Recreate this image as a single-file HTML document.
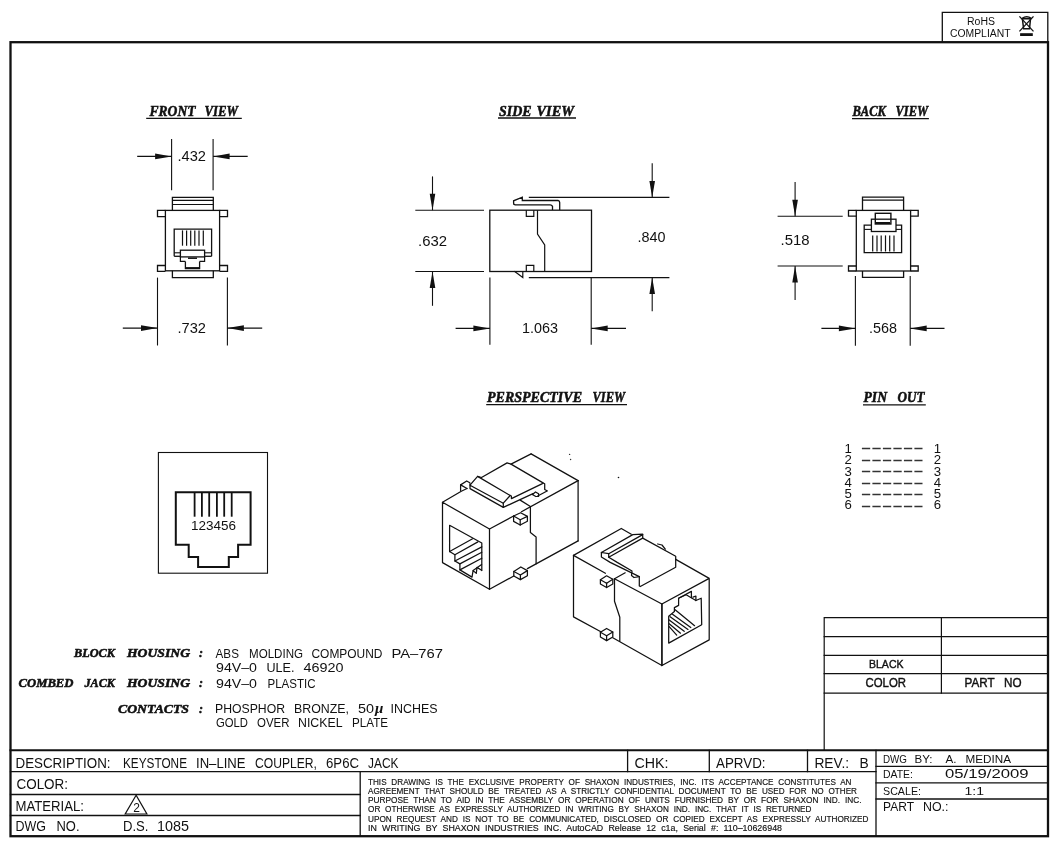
<!DOCTYPE html>
<html><head><meta charset="utf-8">
<style>
html,body{margin:0;padding:0;background:#fff;width:1060px;height:848px;overflow:hidden}
svg{display:block;will-change:transform}
text{white-space:pre}
.s{font-family:"Liberation Sans",sans-serif;fill:#111}
.h{font-family:"Liberation Serif",serif;font-weight:bold;font-style:italic;fill:#111;stroke:#111;stroke-width:0.55}
</style></head><body>
<svg width="1060" height="848" viewBox="0 0 1060 848">
<g fill="none" stroke="#111" stroke-linecap="square">
<!-- outer border -->
<rect x="10.5" y="42.2" width="1037.5" height="794" stroke-width="2.3"/>
<!-- RoHS box -->
<polyline points="942.3,42 942.3,12.3 1047.8,12.3 1047.8,42" stroke-width="1.3"/>
<!-- title block -->
<line x1="10.5" y1="750.3" x2="1047.8" y2="750.3" stroke-width="2"/>
<line x1="10.5" y1="771.6" x2="876" y2="771.6" stroke-width="1.3"/>
<line x1="10.5" y1="794.5" x2="360.2" y2="794.5" stroke-width="1.3"/>
<line x1="10.5" y1="815.5" x2="360.2" y2="815.5" stroke-width="1.3"/>
<line x1="360.2" y1="771.6" x2="360.2" y2="836" stroke-width="1.3"/>
<line x1="627.6" y1="750.3" x2="627.6" y2="771.6" stroke-width="1.3"/>
<line x1="709.3" y1="750.3" x2="709.3" y2="771.6" stroke-width="1.3"/>
<line x1="807.5" y1="750.3" x2="807.5" y2="771.6" stroke-width="1.3"/>
<line x1="876" y1="750.3" x2="876" y2="836" stroke-width="1.3"/>
<line x1="876" y1="766.4" x2="1047.8" y2="766.4" stroke-width="1.3"/>
<line x1="876" y1="782.8" x2="1047.8" y2="782.8" stroke-width="1.3"/>
<line x1="876" y1="799" x2="1047.8" y2="799" stroke-width="1.3"/>
<!-- parts table -->
<polyline points="824.2,750 824.2,617.7 1047.8,617.7" stroke-width="1.2"/>
<line x1="824.2" y1="636.6" x2="1047.8" y2="636.6" stroke-width="1.2"/>
<line x1="824.2" y1="655.4" x2="1047.8" y2="655.4" stroke-width="1.2"/>
<line x1="824.2" y1="673.6" x2="1047.8" y2="673.6" stroke-width="1.2"/>
<line x1="824.2" y1="693.2" x2="1047.8" y2="693.2" stroke-width="1.2"/>
<line x1="941.4" y1="617.7" x2="941.4" y2="693.2" stroke-width="1.2"/>
</g>
<!--TTEXT-->
<text class="s" x="15.5" y="767.6" font-size="13.8" textLength="95.0" lengthAdjust="spacingAndGlyphs">DESCRIPTION:</text>
<text class="s" x="123.0" y="767.6" font-size="13.8" textLength="64.0" lengthAdjust="spacingAndGlyphs">KEYSTONE</text>
<text class="s" x="196.0" y="767.6" font-size="13.8" textLength="49.5" lengthAdjust="spacingAndGlyphs">IN–LINE</text>
<text class="s" x="255.0" y="767.6" font-size="13.8" textLength="62.0" lengthAdjust="spacingAndGlyphs">COUPLER,</text>
<text class="s" x="326.0" y="767.6" font-size="13.8" textLength="33.0" lengthAdjust="spacingAndGlyphs">6P6C</text>
<text class="s" x="368.0" y="767.6" font-size="13.8" textLength="30.5" lengthAdjust="spacingAndGlyphs">JACK</text>
<text class="s" x="16.5" y="788.8" font-size="13.8" textLength="51.5" lengthAdjust="spacingAndGlyphs">COLOR:</text>
<text class="s" x="15.5" y="810.7" font-size="13.8" textLength="68.5" lengthAdjust="spacingAndGlyphs">MATERIAL:</text>
<text class="s" x="15.5" y="831.4" font-size="13.8" textLength="30.5" lengthAdjust="spacingAndGlyphs">DWG</text>
<text class="s" x="56.5" y="831.4" font-size="13.8" textLength="23.0" lengthAdjust="spacingAndGlyphs">NO.</text>
<text class="s" x="123.0" y="831.4" font-size="13.8" textLength="25.5" lengthAdjust="spacingAndGlyphs">D.S.</text>
<text class="s" x="157.0" y="831.4" font-size="13.8" textLength="32.0" lengthAdjust="spacingAndGlyphs">1085</text>
<text class="s" x="634.5" y="767.6" font-size="13.8" textLength="34.0" lengthAdjust="spacingAndGlyphs">CHK:</text>
<text class="s" x="716.0" y="767.6" font-size="13.8" textLength="49.5" lengthAdjust="spacingAndGlyphs">APRVD:</text>
<text class="s" x="814.4" y="767.6" font-size="13.8" textLength="34.7" lengthAdjust="spacingAndGlyphs">REV.:</text>
<text class="s" x="859.4" y="767.6" font-size="13.8" textLength="9.2" lengthAdjust="spacingAndGlyphs">B</text>
<text class="s" x="883.0" y="763" font-size="11.2" textLength="24.0" lengthAdjust="spacingAndGlyphs">DWG</text>
<text class="s" x="914.5" y="763" font-size="11.2" textLength="18.0" lengthAdjust="spacingAndGlyphs">BY:</text>
<text class="s" x="945.5" y="763" font-size="11.5" textLength="11.0" lengthAdjust="spacingAndGlyphs">A.</text>
<text class="s" x="965.5" y="763" font-size="11.5" textLength="45.5" lengthAdjust="spacingAndGlyphs">MEDINA</text>
<text class="s" x="883.0" y="778.1" font-size="11.2" textLength="30.0" lengthAdjust="spacingAndGlyphs">DATE:</text>
<text class="s" x="945.0" y="778.1" font-size="12.6" textLength="83.5" lengthAdjust="spacingAndGlyphs">05/19/2009</text>
<text class="s" x="883.0" y="795.3" font-size="11.2" textLength="38.0" lengthAdjust="spacingAndGlyphs">SCALE:</text>
<text class="s" x="964.5" y="795.3" font-size="11.5" textLength="19.5" lengthAdjust="spacingAndGlyphs">1:1</text>
<text class="s" x="883.0" y="810.8" font-size="12.8" textLength="31.0" lengthAdjust="spacingAndGlyphs">PART</text>
<text class="s" x="923.0" y="810.8" font-size="12.8" textLength="25.5" lengthAdjust="spacingAndGlyphs">NO.:</text>
<text class="s" x="869.0" y="668" font-size="11.5" textLength="34.5" lengthAdjust="spacingAndGlyphs" stroke="#111" stroke-width="0.4">BLACK</text>
<text class="s" x="865.5" y="687.3" font-size="12" textLength="40.5" lengthAdjust="spacingAndGlyphs" stroke="#111" stroke-width="0.4">COLOR</text>
<text class="s" x="964.5" y="687.3" font-size="12" textLength="30.0" lengthAdjust="spacingAndGlyphs" stroke="#111" stroke-width="0.4">PART</text>
<text class="s" x="1004.0" y="687.3" font-size="12" textLength="17.5" lengthAdjust="spacingAndGlyphs" stroke="#111" stroke-width="0.4">NO</text>
<text class="s" x="967.0" y="24.5" font-size="10" textLength="28.0" lengthAdjust="spacingAndGlyphs">RoHS</text>
<text class="s" x="950.0" y="36.5" font-size="10" textLength="60.5" lengthAdjust="spacingAndGlyphs">COMPLIANT</text>
<text class="s" x="368.0" y="784.6" font-size="8.4" textLength="483.5" lengthAdjust="spacingAndGlyphs" word-spacing="2.6" stroke="#111" stroke-width="0.15">THIS DRAWING IS THE EXCLUSIVE PROPERTY OF SHAXON INDUSTRIES, INC. ITS ACCEPTANCE CONSTITUTES AN</text>
<text class="s" x="368.0" y="794.1" font-size="8.4" textLength="489.0" lengthAdjust="spacingAndGlyphs" word-spacing="2.6" stroke="#111" stroke-width="0.15">AGREEMENT THAT SHOULD BE TREATED AS A STRICTLY CONFIDENTIAL DOCUMENT TO BE USED FOR NO OTHER</text>
<text class="s" x="368.0" y="803.4" font-size="8.4" textLength="493.5" lengthAdjust="spacingAndGlyphs" word-spacing="2.6" stroke="#111" stroke-width="0.15">PURPOSE THAN TO AID IN THE ASSEMBLY OR OPERATION OF UNITS FURNISHED BY OR FOR SHAXON IND. INC.</text>
<text class="s" x="368.0" y="812.4" font-size="8.4" textLength="443.5" lengthAdjust="spacingAndGlyphs" word-spacing="2.6" stroke="#111" stroke-width="0.15">OR OTHERWISE AS EXPRESSLY AUTHORIZED IN WRITING BY SHAXON IND. INC. THAT IT IS RETURNED</text>
<text class="s" x="368.0" y="821.6" font-size="8.4" textLength="500.5" lengthAdjust="spacingAndGlyphs" word-spacing="2.6" stroke="#111" stroke-width="0.15">UPON REQUEST AND IS NOT TO BE COMMUNICATED, DISCLOSED OR COPIED EXCEPT AS EXPRESSLY AUTHORIZED</text>
<text class="s" x="368.0" y="831.4" font-size="8.4" textLength="414.0" lengthAdjust="spacingAndGlyphs" word-spacing="2.6" stroke="#111" stroke-width="0.15">IN WRITING BY SHAXON INDUSTRIES INC. AutoCAD Release 12 c1a, Serial #: 110–10626948</text>
<text class="h" x="149.5" y="115.7" font-size="15.5" textLength="46.0" lengthAdjust="spacingAndGlyphs">FRONT</text>
<text class="h" x="204.5" y="115.7" font-size="15.5" textLength="33.5" lengthAdjust="spacingAndGlyphs">VIEW</text>
<text class="h" x="499.0" y="115.6" font-size="15.5" textLength="32.5" lengthAdjust="spacingAndGlyphs">SIDE</text>
<text class="h" x="536.5" y="115.6" font-size="15.5" textLength="37.5" lengthAdjust="spacingAndGlyphs">VIEW</text>
<text class="h" x="852.5" y="115.5" font-size="15.5" textLength="33.5" lengthAdjust="spacingAndGlyphs">BACK</text>
<text class="h" x="895.5" y="115.5" font-size="15.5" textLength="32.5" lengthAdjust="spacingAndGlyphs">VIEW</text>
<text class="h" x="487.0" y="401.7" font-size="15.5" textLength="95.0" lengthAdjust="spacingAndGlyphs">PERSPECTIVE</text>
<text class="h" x="592.5" y="401.7" font-size="15.5" textLength="32.5" lengthAdjust="spacingAndGlyphs">VIEW</text>
<text class="h" x="863.5" y="402.3" font-size="15.5" textLength="23.5" lengthAdjust="spacingAndGlyphs">PIN</text>
<text class="h" x="897.5" y="402.3" font-size="15.5" textLength="27.0" lengthAdjust="spacingAndGlyphs">OUT</text>
<text class="h" x="74.0" y="657" font-size="13.5" textLength="41.0" lengthAdjust="spacingAndGlyphs">BLOCK</text>
<text class="h" x="127.0" y="657" font-size="13.5" textLength="63.0" lengthAdjust="spacingAndGlyphs">HOUSING</text>
<text class="h" x="199.0" y="657" font-size="13.5" textLength="4.0" lengthAdjust="spacingAndGlyphs">:</text>
<text class="h" x="18.5" y="687.1" font-size="13.5" textLength="55.0" lengthAdjust="spacingAndGlyphs">COMBED</text>
<text class="h" x="84.5" y="687.1" font-size="13.5" textLength="30.5" lengthAdjust="spacingAndGlyphs">JACK</text>
<text class="h" x="127.0" y="687.1" font-size="13.5" textLength="63.0" lengthAdjust="spacingAndGlyphs">HOUSING</text>
<text class="h" x="199.0" y="687.1" font-size="13.5" textLength="4.0" lengthAdjust="spacingAndGlyphs">:</text>
<text class="h" x="118.0" y="712.7" font-size="13.5" textLength="71.0" lengthAdjust="spacingAndGlyphs">CONTACTS</text>
<text class="h" x="199.0" y="712.7" font-size="13.5" textLength="4.0" lengthAdjust="spacingAndGlyphs">:</text>
<text class="s" x="177.5" y="161.2" font-size="14" textLength="28.5" lengthAdjust="spacingAndGlyphs">.432</text>
<text class="s" x="177.5" y="332.6" font-size="14" textLength="28.5" lengthAdjust="spacingAndGlyphs">.732</text>
<text class="s" x="418.0" y="245.6" font-size="14" textLength="29.0" lengthAdjust="spacingAndGlyphs">.632</text>
<text class="s" x="637.5" y="241.7" font-size="14" textLength="28.0" lengthAdjust="spacingAndGlyphs">.840</text>
<text class="s" x="522.0" y="332.5" font-size="14" textLength="36.0" lengthAdjust="spacingAndGlyphs">1.063</text>
<text class="s" x="780.5" y="245.2" font-size="14" textLength="29.0" lengthAdjust="spacingAndGlyphs">.518</text>
<text class="s" x="869.0" y="333" font-size="14" textLength="28.0" lengthAdjust="spacingAndGlyphs">.568</text>
<text class="s" x="191.0" y="530.2" font-size="12.5" textLength="45.0" lengthAdjust="spacingAndGlyphs">123456</text>
<text class="s" x="215.6" y="657.6" font-size="12.8" textLength="23.3" lengthAdjust="spacingAndGlyphs">ABS</text>
<text class="s" x="249.0" y="657.6" font-size="12.8" textLength="54.0" lengthAdjust="spacingAndGlyphs">MOLDING</text>
<text class="s" x="311.5" y="657.6" font-size="12.8" textLength="71.0" lengthAdjust="spacingAndGlyphs">COMPOUND</text>
<text class="s" x="391.5" y="657.6" font-size="12.8" textLength="51.5" lengthAdjust="spacingAndGlyphs">PA–767</text>
<text class="s" x="216.0" y="671.8" font-size="12.8" textLength="41.0" lengthAdjust="spacingAndGlyphs">94V–0</text>
<text class="s" x="266.5" y="671.8" font-size="12.8" textLength="28.0" lengthAdjust="spacingAndGlyphs">ULE.</text>
<text class="s" x="303.5" y="671.8" font-size="12.8" textLength="40.0" lengthAdjust="spacingAndGlyphs">46920</text>
<text class="s" x="216.0" y="687.7" font-size="12.8" textLength="41.0" lengthAdjust="spacingAndGlyphs">94V–0</text>
<text class="s" x="267.5" y="687.7" font-size="12.8" textLength="48.0" lengthAdjust="spacingAndGlyphs">PLASTIC</text>
<text class="s" x="215.0" y="713" font-size="12.8" textLength="70.0" lengthAdjust="spacingAndGlyphs">PHOSPHOR</text>
<text class="s" x="294.0" y="713" font-size="12.8" textLength="55.0" lengthAdjust="spacingAndGlyphs">BRONZE,</text>
<text class="s" x="358.0" y="713" font-size="12.8" textLength="16.0" lengthAdjust="spacingAndGlyphs">50</text>
<text class="s" x="390.5" y="713" font-size="12.8" textLength="47.0" lengthAdjust="spacingAndGlyphs">INCHES</text>
<text class="s" x="375" y="713" font-size="15" font-style="italic" font-weight="bold" style="font-family:'Liberation Serif',serif">μ</text>
<text class="s" x="216.0" y="727" font-size="12.8" textLength="32.0" lengthAdjust="spacingAndGlyphs">GOLD</text>
<text class="s" x="257.0" y="727" font-size="12.8" textLength="32.5" lengthAdjust="spacingAndGlyphs">OVER</text>
<text class="s" x="298.0" y="727" font-size="12.8" textLength="44.5" lengthAdjust="spacingAndGlyphs">NICKEL</text>
<text class="s" x="352.0" y="727" font-size="12.8" textLength="36.0" lengthAdjust="spacingAndGlyphs">PLATE</text>
<text class="s" x="844.5" y="452.7" font-size="13.2">1</text>
<text class="s" x="933.7" y="452.7" font-size="13.2">1</text>
<text class="s" x="844.5" y="464.2" font-size="13.2">2</text>
<text class="s" x="933.7" y="464.2" font-size="13.2">2</text>
<text class="s" x="844.5" y="475.5" font-size="13.2">3</text>
<text class="s" x="933.7" y="475.5" font-size="13.2">3</text>
<text class="s" x="844.5" y="486.5" font-size="13.2">4</text>
<text class="s" x="933.7" y="486.5" font-size="13.2">4</text>
<text class="s" x="844.5" y="498.1" font-size="13.2">5</text>
<text class="s" x="933.7" y="498.1" font-size="13.2">5</text>
<text class="s" x="844.5" y="509.3" font-size="13.2">6</text>
<text class="s" x="933.7" y="509.3" font-size="13.2">6</text>
<!--/TTEXT-->
<!--VIEWS--><g fill="none" stroke="#111" stroke-linecap="butt" stroke-linejoin="miter">
<line x1="171.6" y1="139" x2="171.6" y2="190.3" stroke-width="1.1"/>
<line x1="213.1" y1="139" x2="213.1" y2="190.3" stroke-width="1.1"/>
<line x1="137.2" y1="156.4" x2="171.6" y2="156.4" stroke-width="1.1"/>
<polygon points="171.6,156.4 155.1,153.6 155.1,159.20000000000002" fill="#111" stroke="none"/>
<line x1="247.7" y1="156.4" x2="213.1" y2="156.4" stroke-width="1.1"/>
<polygon points="213.1,156.4 229.6,153.6 229.6,159.20000000000002" fill="#111" stroke="none"/>
<rect x="165.4" y="210.4" width="54.2" height="60.4" stroke-width="1.3"/>
<polyline points="172.4,210.4 172.4,197.4 213.3,197.4 213.3,210.4" stroke-width="1.3"/>
<line x1="172.4" y1="200.3" x2="213.3" y2="200.3" stroke-width="1.2"/>
<line x1="172.4" y1="204.5" x2="213.3" y2="204.5" stroke-width="1.2"/>
<polyline points="165.4,210.4 157.5,210.4 157.5,216.6 165.4,216.6" stroke-width="1.3"/>
<polyline points="219.6,210.4 227.5,210.4 227.5,216.6 219.6,216.6" stroke-width="1.3"/>
<polyline points="165.4,265.5 157.5,265.5 157.5,271.4 165.4,271.4" stroke-width="1.3"/>
<polyline points="219.6,265.5 227.5,265.5 227.5,271.4 219.6,271.4" stroke-width="1.3"/>
<polyline points="172.4,270.8 172.4,277.6 213.3,277.6 213.3,270.8" stroke-width="1.3"/>
<polyline points="174.2,256.3 174.2,229.2 211.6,229.2 211.6,256.3" stroke-width="1.3"/>
<line x1="174.2" y1="256.3" x2="180.4" y2="256.3" stroke-width="1.3"/>
<line x1="204.6" y1="256.3" x2="211.6" y2="256.3" stroke-width="1.3"/>
<line x1="174.2" y1="252.8" x2="180.4" y2="252.8" stroke-width="1.1"/>
<line x1="204.6" y1="252.8" x2="211.6" y2="252.8" stroke-width="1.1"/>
<line x1="182.5" y1="230.4" x2="182.5" y2="245.7" stroke-width="1.2"/>
<line x1="186.6" y1="230.4" x2="186.6" y2="245.7" stroke-width="1.2"/>
<line x1="190.7" y1="230.4" x2="190.7" y2="245.7" stroke-width="1.2"/>
<line x1="194.8" y1="230.4" x2="194.8" y2="245.7" stroke-width="1.2"/>
<line x1="199.0" y1="230.4" x2="199.0" y2="245.7" stroke-width="1.2"/>
<line x1="203.3" y1="230.4" x2="203.3" y2="245.7" stroke-width="1.2"/>
<rect x="180.4" y="250.2" width="24.2" height="6.7" stroke-width="1.3"/>
<polyline points="180.4,256.9 180.4,261.4 185.4,261.4" stroke-width="1.2"/>
<polyline points="204.6,256.9 204.6,261.4 199.6,261.4" stroke-width="1.2"/>
<polyline points="185.4,261.4 185.4,268.5 199.6,268.5 199.6,261.4" stroke-width="1.3"/>
<line x1="188" y1="258.2" x2="197" y2="258.2" stroke-width="1.5"/>
<line x1="186" y1="268" x2="199" y2="268" stroke-width="1.8"/>
<line x1="157.5" y1="277.6" x2="157.5" y2="345.5" stroke-width="1.1"/>
<line x1="227.4" y1="277.6" x2="227.4" y2="345.5" stroke-width="1.1"/>
<line x1="122.8" y1="328.1" x2="157.5" y2="328.1" stroke-width="1.1"/>
<polygon points="157.5,328.1 141.0,325.3 141.0,330.90000000000003" fill="#111" stroke="none"/>
<line x1="262.2" y1="328.1" x2="227.4" y2="328.1" stroke-width="1.1"/>
<polygon points="227.4,328.1 243.9,325.3 243.9,330.90000000000003" fill="#111" stroke="none"/>
<rect x="489.8" y="210.2" width="101.7" height="61.3" stroke-width="1.3"/>
<line x1="415.3" y1="210.2" x2="484" y2="210.2" stroke-width="1.1"/>
<line x1="415.3" y1="271.5" x2="484" y2="271.5" stroke-width="1.1"/>
<line x1="432.5" y1="176.4" x2="432.5" y2="210.2" stroke-width="1.1"/>
<polygon points="432.5,210.2 429.7,193.7 435.3,193.7" fill="#111" stroke="none"/>
<line x1="432.5" y1="305.8" x2="432.5" y2="271.5" stroke-width="1.1"/>
<polygon points="432.5,271.5 429.7,288.0 435.3,288.0" fill="#111" stroke="none"/>
<line x1="528.8" y1="197.4" x2="669.4" y2="197.4" stroke-width="1.1"/>
<line x1="528.8" y1="277.6" x2="669.4" y2="277.6" stroke-width="1.1"/>
<line x1="652.2" y1="163.2" x2="652.2" y2="197.4" stroke-width="1.1"/>
<polygon points="652.2,197.4 649.4000000000001,180.9 655.0,180.9" fill="#111" stroke="none"/>
<line x1="652.2" y1="311.2" x2="652.2" y2="277.6" stroke-width="1.1"/>
<polygon points="652.2,277.6 649.4000000000001,294.1 655.0,294.1" fill="#111" stroke="none"/>
<polyline points="552.5,210 552.5,206.3 551.5,205.2 550.2,204.8 515.2,204.8 513.8,204.2 513.6,203 513.6,200.8 522.3,197.2 522.3,200.5 558,200.5 559.3,201.3 559.7,202.6 559.7,210" stroke-width="1.3"/>
<polyline points="537.5,210.2 537.5,234 544.7,245 544.7,271.5" stroke-width="1.2"/>
<polyline points="526.3,210.2 526.3,216.3 533.8,216.3 533.8,210.2" stroke-width="1.2"/>
<polyline points="526.3,271.5 526.3,265.4 533.8,265.4 533.8,271.5" stroke-width="1.2"/>
<polyline points="514.4,271.3 522.8,277.6 522.8,271.5" stroke-width="1.2"/>
<line x1="489.9" y1="277.4" x2="489.9" y2="344.8" stroke-width="1.1"/>
<line x1="591.2" y1="277.4" x2="591.2" y2="344.8" stroke-width="1.1"/>
<line x1="455.6" y1="328.4" x2="489.9" y2="328.4" stroke-width="1.1"/>
<polygon points="489.9,328.4 473.4,325.59999999999997 473.4,331.2" fill="#111" stroke="none"/>
<line x1="626" y1="328.4" x2="591.2" y2="328.4" stroke-width="1.1"/>
<polygon points="591.2,328.4 607.7,325.59999999999997 607.7,331.2" fill="#111" stroke="none"/>
<rect x="856.3" y="210.4" width="54.3" height="60.6" stroke-width="1.3"/>
<polyline points="862.5,210.4 862.5,197.2 903.6,197.2 903.6,210.4" stroke-width="1.3"/>
<line x1="862.5" y1="200.2" x2="903.6" y2="200.2" stroke-width="1.2"/>
<polyline points="856.3,210.4 848.5,210.4 848.5,216.2 856.3,216.2" stroke-width="1.3"/>
<polyline points="910.6,210.4 918.2,210.4 918.2,216.2 910.6,216.2" stroke-width="1.3"/>
<polyline points="856.3,266 848.5,266 848.5,271 856.3,271" stroke-width="1.3"/>
<polyline points="910.6,266 918.2,266 918.2,271 910.6,271" stroke-width="1.3"/>
<polyline points="862.5,271 862.5,277.3 903.6,277.3 903.6,271" stroke-width="1.3"/>
<polyline points="871.4,225.2 864.2,225.2 864.2,252.7 901.6,252.7 901.6,225.2 896,225.2" stroke-width="1.3"/>
<line x1="864.2" y1="229.4" x2="871.4" y2="229.4" stroke-width="1.1"/>
<line x1="896" y1="229.4" x2="901.6" y2="229.4" stroke-width="1.1"/>
<rect x="871.4" y="219.2" width="24.6" height="12.3" stroke-width="1.3"/>
<rect x="875.3" y="213.3" width="15.6" height="10.7" stroke-width="1.4"/>
<line x1="876" y1="223" x2="890" y2="223" stroke-width="2"/>
<line x1="872.7" y1="235.4" x2="872.7" y2="251.5" stroke-width="1.2"/>
<line x1="877.0" y1="235.4" x2="877.0" y2="251.5" stroke-width="1.2"/>
<line x1="881.2" y1="235.4" x2="881.2" y2="251.5" stroke-width="1.2"/>
<line x1="885.5" y1="235.4" x2="885.5" y2="251.5" stroke-width="1.2"/>
<line x1="889.7" y1="235.4" x2="889.7" y2="251.5" stroke-width="1.2"/>
<line x1="894.0" y1="235.4" x2="894.0" y2="251.5" stroke-width="1.2"/>
<line x1="777.6" y1="216.2" x2="842.7" y2="216.2" stroke-width="1.1"/>
<line x1="777.6" y1="266" x2="842.7" y2="266" stroke-width="1.1"/>
<line x1="795.1" y1="181.9" x2="795.1" y2="216.2" stroke-width="1.1"/>
<polygon points="795.1,216.2 792.3000000000001,199.7 797.9,199.7" fill="#111" stroke="none"/>
<line x1="795.1" y1="299.9" x2="795.1" y2="266" stroke-width="1.1"/>
<polygon points="795.1,266 792.3000000000001,282.5 797.9,282.5" fill="#111" stroke="none"/>
<line x1="855.4" y1="276.1" x2="855.4" y2="345.8" stroke-width="1.1"/>
<line x1="910.2" y1="276.1" x2="910.2" y2="345.8" stroke-width="1.1"/>
<line x1="821.4" y1="328.4" x2="855.4" y2="328.4" stroke-width="1.1"/>
<polygon points="855.4,328.4 838.9,325.59999999999997 838.9,331.2" fill="#111" stroke="none"/>
<line x1="944.5" y1="328.4" x2="910.2" y2="328.4" stroke-width="1.1"/>
<polygon points="910.2,328.4 926.7,325.59999999999997 926.7,331.2" fill="#111" stroke="none"/>
<rect x="158.4" y="452.5" width="109.1" height="120.7" stroke-width="1.1"/>
<polygon points="175.8,492.3 175.8,544.8 188.7,544.8 188.7,557 198.1,557 198.1,567.1 228.8,567.1 228.8,557 238.1,557 238.1,544.8 250.6,544.8 250.6,492.3" stroke-width="2.0"/>
<line x1="194.6" y1="492.3" x2="194.6" y2="516.7" stroke-width="1.8"/>
<line x1="201.9" y1="492.3" x2="201.9" y2="516.7" stroke-width="1.8"/>
<line x1="209.2" y1="492.3" x2="209.2" y2="516.7" stroke-width="1.8"/>
<line x1="216.9" y1="492.3" x2="216.9" y2="516.7" stroke-width="1.8"/>
<line x1="224.2" y1="492.3" x2="224.2" y2="516.7" stroke-width="1.8"/>
<line x1="231.7" y1="492.3" x2="231.7" y2="516.7" stroke-width="1.8"/>
<line x1="861.9" y1="448.5" x2="922.5" y2="448.5" stroke-width="1.3" stroke="#333" stroke-dasharray="8.3 2.2" stroke-linecap="butt"/>
<line x1="861.9" y1="460.5" x2="922.5" y2="460.5" stroke-width="1.3" stroke="#333" stroke-dasharray="8.3 2.2" stroke-linecap="butt"/>
<line x1="861.9" y1="471.5" x2="922.5" y2="471.5" stroke-width="1.3" stroke="#333" stroke-dasharray="8.3 2.2" stroke-linecap="butt"/>
<line x1="861.9" y1="483.5" x2="922.5" y2="483.5" stroke-width="1.3" stroke="#333" stroke-dasharray="8.3 2.2" stroke-linecap="butt"/>
<line x1="861.9" y1="494.5" x2="922.5" y2="494.5" stroke-width="1.3" stroke="#333" stroke-dasharray="8.3 2.2" stroke-linecap="butt"/>
<line x1="861.9" y1="506.5" x2="922.5" y2="506.5" stroke-width="1.3" stroke="#333" stroke-dasharray="8.3 2.2" stroke-linecap="butt"/>
<line x1="1019.4" y1="16.4" x2="1033.5" y2="31.4" stroke-width="1.3"/>
<line x1="1033.5" y1="16.4" x2="1019.4" y2="31.4" stroke-width="1.3"/>
<path d="M1022.2,18.3 Q1026.7,15.2 1031.2,18.3" stroke-width="1.6"/>
<polygon points="1022.4,18.8 1023.6,28.8 1029.5,28.8 1030.5,18.8" stroke-width="1.5"/>
<rect x="1020.1" y="33.2" width="12.7" height="2.8" fill="#111" stroke="none"/>
<polygon points="136.1,795.3 125.2,814 146.9,814" stroke-width="1.2"/>
<text x="133.2" y="811.9" font-size="12" fill="#111" stroke="none" style="font-family:'Liberation Sans',sans-serif">2</text>
</g><!--/VIEWS-->
<!--PERSP--><g fill="none" stroke="#111" stroke-linecap="round" stroke-linejoin="round">
<polyline points="442.5,502.3 489.5,529.0 489.5,589.3 442.5,562.6 442.5,502.3" stroke-width="1.25"/>
<polyline points="578.1,480.6 578.1,540.9" stroke-width="1.25"/>
<polyline points="531.1,453.9 578.1,480.6" stroke-width="1.25"/>
<polyline points="489.5,529.0 513.6,516.0" stroke-width="1.25"/>
<polyline points="521.5,511.7 578.1,480.6" stroke-width="1.25"/>
<polyline points="513.6,516.0 513.6,521.4 520.2,525.0 527.4,521.2 527.4,516.4 520.6,512.7 513.6,516.0" stroke-width="1.25"/>
<polyline points="513.6,516.0 520.2,519.8 527.4,516.4" stroke-width="1.25"/>
<polyline points="520.2,519.8 520.2,525.0" stroke-width="1.25"/>
<polyline points="489.5,589.3 513.8,576.0" stroke-width="1.25"/>
<polyline points="527.4,568.6 578.1,540.9" stroke-width="1.25"/>
<polyline points="513.8,571.5 513.8,576.0 520.4,579.6 527.4,575.8 527.4,570.6 520.8,567.0 513.8,571.5" stroke-width="1.25"/>
<polyline points="513.8,571.5 520.4,575.0 527.4,570.6" stroke-width="1.25"/>
<polyline points="520.4,575.0 520.4,579.6" stroke-width="1.25"/>
<polyline points="530.4,506.5 530.4,532.6 536.1,536.9 536.1,563.8" stroke-width="1.25"/>
<polyline points="442.5,502.3 461.3,491.2 467.0,488.5" stroke-width="1.25"/>
<polyline points="511.0,464.1 531.1,453.9" stroke-width="1.25"/>
<polyline points="460.6,490.5 460.6,484.9 466.7,481.0 469.8,482.7" stroke-width="1.25"/>
<polyline points="460.6,484.9 467.0,488.5" stroke-width="1.25"/>
<polyline points="470.0,483.5 470.0,488.6 503.3,507.4 503.3,503.2 470.0,485.2" stroke-width="1.25"/>
<polyline points="470.0,485.2 477.6,476.4 510.2,495.5 511.4,496.0 511.4,498.6 542.4,483.6" stroke-width="1.25"/>
<polyline points="503.3,503.2 510.2,495.5" stroke-width="1.25"/>
<polyline points="477.6,476.4 481.5,477.5 507.1,462.9 511.0,464.1 543.9,483.4 544.7,483.8 544.7,489.5 547.0,490.8" stroke-width="1.25"/>
<polyline points="503.3,507.4 533.0,493.6" stroke-width="1.25"/>
<polyline points="520.2,500.1 530.4,506.5" stroke-width="1.25"/>
<polyline points="547.1,491.0 537.7,496.0" stroke-width="1.25"/>
<polyline points="532.4,494.5 535.5,492.0 538.6,493.8 538.6,496.3 535.8,496.5 532.4,494.5" stroke-width="1.25"/>
<polyline points="449.6,551.5 449.6,525.3 481.8,543.0 481.8,570.6" stroke-width="1.25"/>
<polyline points="449.6,551.5 454.9,554.7 454.9,561.0 459.9,563.9 459.9,569.9 472.0,577.1 473.1,570.6 476.3,573.4 477.0,567.4 481.6,570.2" stroke-width="1.25"/>
<polyline points="449.6,551.5 472.6,538.8" stroke-width="1.25"/>
<polyline points="454.9,554.7 477.9,541.9" stroke-width="1.25"/>
<polyline points="454.9,561.0 481.8,546.9" stroke-width="1.25"/>
<polyline points="459.9,563.9 481.8,552.2" stroke-width="1.25"/>
<polyline points="459.9,569.9 481.8,558.2" stroke-width="1.25"/>
<polyline points="473.1,570.6 481.6,564.6" stroke-width="1.25"/>
<polyline points="573.5,555.4 621.3,528.5 631.3,534.2" stroke-width="1.25"/>
<polyline points="675.7,559.4 709.2,578.4 709.2,639.9 661.9,665.5 661.9,604.0 709.2,578.4" stroke-width="1.25"/>
<polyline points="661.9,604.0 661.9,665.5" stroke-width="1.25"/>
<polyline points="573.5,555.4 573.5,616.9 600.4,631.5" stroke-width="1.25"/>
<polyline points="612.8,637.8 661.9,665.5" stroke-width="1.25"/>
<polyline points="573.5,555.4 605.4,573.3" stroke-width="1.25"/>
<polyline points="614.5,578.8 661.9,604.0" stroke-width="1.25"/>
<polyline points="600.4,579.8 600.4,584.0 606.6,587.5 612.8,584.0 612.8,579.2 606.6,575.8 600.4,579.8" stroke-width="1.25"/>
<polyline points="600.4,579.8 606.6,583.2 612.8,579.2" stroke-width="1.25"/>
<polyline points="606.6,583.2 606.6,587.5" stroke-width="1.25"/>
<polyline points="600.4,632.3 600.4,637.0 606.6,640.6 612.8,637.0 612.8,632.0 606.6,628.5 600.4,632.3" stroke-width="1.25"/>
<polyline points="600.4,632.3 606.6,635.8 612.8,632.0" stroke-width="1.25"/>
<polyline points="606.6,635.8 606.6,640.6" stroke-width="1.25"/>
<polyline points="614.5,578.8 614.5,601.3 619.8,617.2 619.8,641.3" stroke-width="1.25"/>
<polyline points="601.4,552.5 632.8,534.6 642.7,534.2 642.7,538.1 608.7,557.2 608.7,553.7 601.4,552.5" stroke-width="1.25"/>
<polyline points="608.7,553.7 642.7,534.6" stroke-width="1.25"/>
<polyline points="642.7,538.1 675.7,556.3 675.7,567.2 640.3,586.5 639.3,586.0 639.3,576.6 610.2,562.4 601.4,557.0 601.4,552.5" stroke-width="1.25"/>
<polyline points="608.7,557.2 617.2,562.4 632.0,571.0 631.5,575.5 634.0,577.5 639.3,576.6" stroke-width="1.25"/>
<polyline points="614.5,578.8 625.2,572.8" stroke-width="1.25"/>
<polyline points="657.7,544.0 662.0,545.0 665.3,549.2" stroke-width="1.25"/>
<polyline points="668.7,616.2 668.7,643.1 701.7,624.7 701.2,598.2 695.9,600.5 686.1,594.8 678.6,598.2 678.6,605.4 674.4,607.6 674.4,611.4 668.7,616.2" stroke-width="1.25"/>
<polyline points="695.9,600.5 695.9,596.0 693.0,597.2" stroke-width="1.25"/>
<polyline points="678.6,598.2 691.4,591.4 691.4,597.6" stroke-width="1.25"/>
<polyline points="674.8,609.6 694.6,625.7" stroke-width="1.25"/>
<polyline points="672.5,614.3 690.8,627.5" stroke-width="1.25"/>
<polyline points="670.1,616.7 688.0,629.4" stroke-width="1.25"/>
<polyline points="669.2,620.0 684.2,631.3" stroke-width="1.25"/>
<polyline points="669.2,623.8 680.5,633.2" stroke-width="1.25"/>
<polyline points="669.2,626.6 676.7,635.1" stroke-width="1.25"/>
<circle cx="569.6" cy="454.4" r="0.7" fill="#333" stroke="none"/>
<circle cx="570.6" cy="459.5" r="0.7" fill="#333" stroke="none"/>
<circle cx="618.5" cy="477.5" r="0.8" fill="#111" stroke="none"/>
</g><!--/PERSP-->
<!--VTEXT-->
<g stroke="#111" stroke-width="1.3">
<line x1="146.2" y1="118.4" x2="241.8" y2="118.4"/>
<line x1="498" y1="118" x2="576" y2="118"/>
<line x1="852" y1="118.7" x2="928.9" y2="118.7"/>
<line x1="486.2" y1="404.6" x2="627" y2="404.6"/>
<line x1="863" y1="404.8" x2="925.8" y2="404.8"/>
</g>
<!--/VTEXT-->
</svg>
</body></html>
